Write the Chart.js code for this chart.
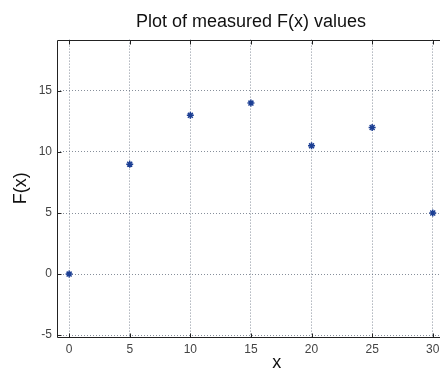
<!DOCTYPE html>
<html>
<head>
<meta charset="utf-8">
<script src="https://cdn.jsdelivr.net/npm/chart.js@4/dist/chart.umd.min.js"></script>
<style>
html,body{margin:0;padding:0;background:#fff;overflow:hidden;width:440px;height:374px;}
#wrap{position:relative;width:502px;height:374px;}
canvas{display:block;}
</style>
</head>
<body>
<div id="wrap"><canvas id="c" width="502" height="374" style="width:502px;height:374px;"></canvas></div>
<script>
const xValues = [0, 5, 10, 15, 20, 25, 30];
const fValues = [0, 9, 13, 14, 10.5, 12, 5];
const xTicks = [0, 5, 10, 15, 20, 25, 30];
const yTicks = [-5, 0, 5, 10, 15];
const titleText = 'Plot of measured F(x) values';
const xLabel = 'x';
const yLabel = 'F(x)';

const FONT = "'Liberation Sans', Arial, sans-serif";
const gridColor = 'rgba(105,115,130,0.8)';

const frame = {
  id: 'frame',
  afterDatasetsDraw(chart) {
    const {ctx, chartArea: a} = chart;
    const xs = chart.scales.x, ys = chart.scales.y;
    const left = Math.round(a.left) + 0.5;
    const top = Math.round(a.top) + 0.5;
    const bottom = Math.round(a.bottom) + 0.5;
    const right = a.right;
    ctx.save();
    ctx.strokeStyle = '#222';
    ctx.lineWidth = 1;
    ctx.beginPath();
    ctx.moveTo(right, top); ctx.lineTo(left, top); ctx.lineTo(left, bottom); ctx.lineTo(right, bottom);
    xTicks.forEach(v => {
      const px = Math.round(xs.getPixelForValue(v)) + 0.5;
      ctx.moveTo(px, bottom); ctx.lineTo(px, bottom - 4);
      ctx.moveTo(px, top); ctx.lineTo(px, top + 4);
    });
    yTicks.forEach(v => {
      const py = Math.round(ys.getPixelForValue(v)) + 0.5;
      ctx.moveTo(left, py); ctx.lineTo(left + 4, py);
    });
    ctx.stroke();
    ctx.restore();
  }
};

new Chart(document.getElementById('c'), {
  type: 'scatter',
  data: {
    datasets: [{
      data: xValues.map((x, i) => ({x: x, y: fValues[i]})),
      pointStyle: 'star',
      pointRadius: 3.5,
      pointBorderWidth: 1.5,
      borderColor: '#1c3f94',
      backgroundColor: '#1c3f94',
      showLine: false
    }]
  },
  options: {
    responsive: false,
    animation: false,
    layout: {padding: 0},
    plugins: {
      legend: {display: false},
      tooltip: {enabled: false},
      title: {
        display: true,
        text: titleText,
        color: '#111',
        font: {family: FONT, size: 18, weight: 'normal'},
        padding: {top: 11, bottom: 7}
      }
    },
    scales: {
      x: {
        type: 'linear',
        min: -1, max: 35.26,
        afterBuildTicks: s => { s.ticks = xTicks.map(v => ({value: v})); },
        afterFit: s => { s.height = 37; },
        grid: {color: gridColor, lineWidth: 1, drawTicks: false},
        border: {display: false, dash: [1, 2]},
        ticks: {color: '#444', font: {family: FONT, size: 12}, padding: 5, maxRotation: 0},
        title: {display: true, text: xLabel, color: '#111', font: {family: FONT, size: 18}, padding: {top: 0, bottom: 0}}
      },
      y: {
        type: 'linear',
        min: -5.15, max: 19.2,
        afterBuildTicks: s => { s.ticks = yTicks.map(v => ({value: v})); },
        afterFit: s => { s.width = 57; },
        grid: {color: gridColor, lineWidth: 1, drawTicks: false},
        border: {display: false, dash: [1, 2]},
        ticks: {color: '#444', font: {family: FONT, size: 12}, padding: 5},
        title: {display: true, text: yLabel, color: '#111', font: {family: FONT, size: 18}, padding: {top: 10, bottom: 0}}
      }
    }
  },
  plugins: [frame]
});
</script>
</body>
</html>
